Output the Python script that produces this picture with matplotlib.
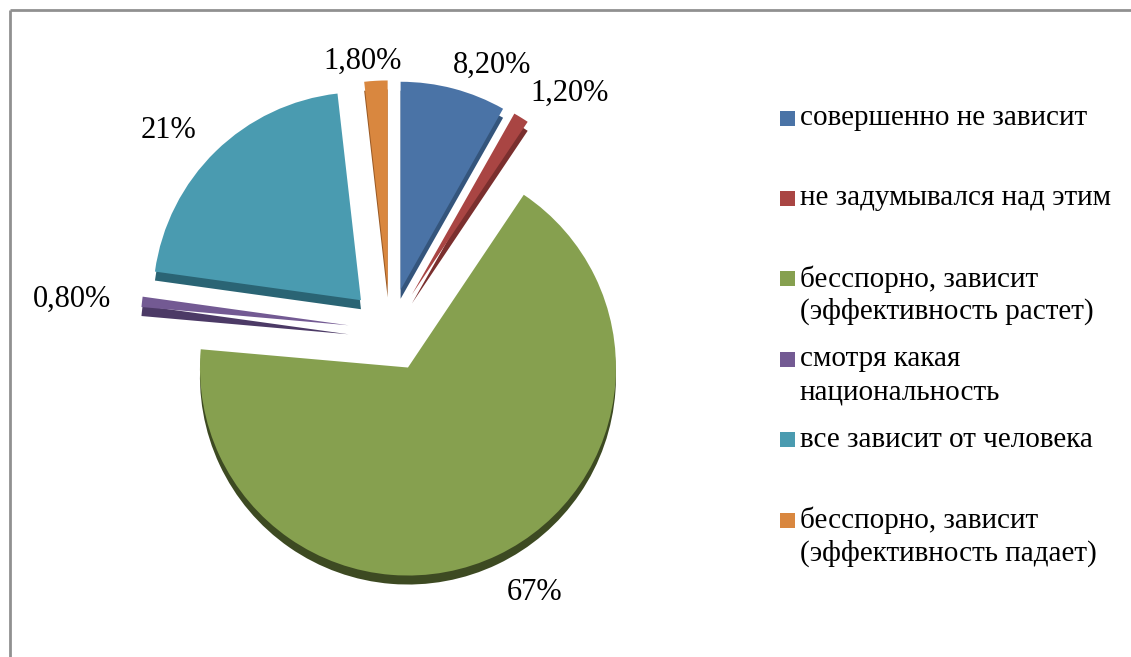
import matplotlib
matplotlib.use("Agg")
import matplotlib.pyplot as plt
from matplotlib.patches import Rectangle
import numpy as np

categories = ["совершенно не зависит",
              "не задумывался над этим",
              "бесспорно, зависит\n(эффективность растет)",
              "смотря какая\nнациональность",
              "все зависит от человека",
              "бесспорно, зависит\n(эффективность падает)"]
values = [8.2, 1.2, 67, 0.8, 21, 1.8]
pct_labels = ["8,20%", "1,20%", "67%", "0,80%", "21%", "1,80%"]

colors = ["#4a73a6", "#a94543", "#86a04f", "#735a93", "#4a9bb0", "#d9873f"]
dark = ["#34557c", "#7a2f2e", "#3d4a22", "#4c3a66", "#2a6474", "#9a5a25"]

plt.rcParams['font.family'] = ['Liberation Serif', 'DejaVu Serif']

W, H = 1131, 657
fig = plt.figure(figsize=(W / 100, H / 100), dpi=100)
ax = fig.add_axes([0, 0, 1, 1])

center = (390, H - 330)
R = 208
explode = [0.2 * R] * len(values)

# depth layer
ax.pie(values, colors=dark, startangle=90, counterclock=False,
       explode=explode, radius=R, center=(center[0], center[1] - 9),
       wedgeprops=dict(linewidth=0), frame=True)
ax.pie(values, colors=colors, startangle=90, counterclock=False,
       explode=explode, radius=R, center=center,
       wedgeprops=dict(linewidth=0), frame=True)
ax.set_xlim(0, W)
ax.set_ylim(0, H)
ax.set_aspect('equal')
ax.axis('off')

# percentage labels (pixel positions, y from top)
label_pos = [(492, 65), (570, 93), (535, 592), (72, 299), (168, 131), (363, 61)]
for txt, (x, y) in zip(pct_labels, label_pos):
    ax.text(x, H - y, txt, fontsize=22, ha='center', va='center', color='black')

# legend
leg_y0 = 118
leg_dy = 80.4
for i, (cat, col) in enumerate(zip(categories, colors)):
    y = leg_y0 + i * leg_dy
    ax.add_patch(Rectangle((780, H - y - 7.5), 15, 15, facecolor=col, edgecolor='none'))
    for j, ln in enumerate(cat.split("\n")):
        ax.text(800, H - y - j * 33, ln, fontsize=21, ha='left', va='center', color='black')

# frame lines (top and left)
ax.plot([9.5, W], [H - 9.5, H - 9.5], color='#909090', lw=2, solid_capstyle='butt')
ax.plot([9.5, 9.5], [0, H - 9.5], color='#909090', lw=2, solid_capstyle='butt')

fig.savefig("out.png", dpi=100)
